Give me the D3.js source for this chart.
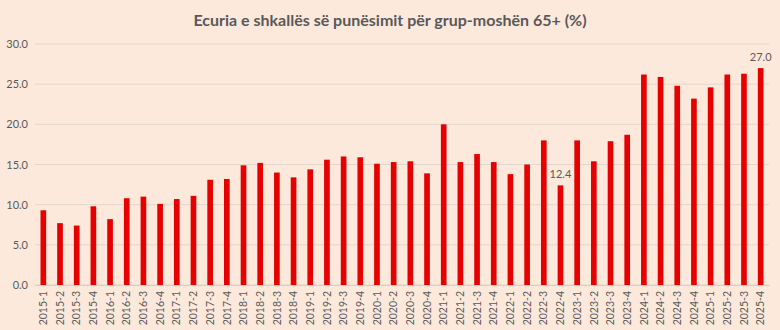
<!DOCTYPE html>
<html><head><meta charset="utf-8">
<script src="https://cdn.jsdelivr.net/npm/d3@7"></script>
<style>
html,body{margin:0;padding:0;background:#fce9dc;}
svg{display:block;}
</style></head>
<body><svg id="c" width="780" height="330"></svg>
<script>
const categories = ["2015-1","2015-2","2015-3","2015-4","2016-1","2016-2","2016-3","2016-4","2017-1","2017-2","2017-3","2017-4","2018-1","2018-2","2018-3","2018-4","2019-1","2019-2","2019-3","2019-4","2020-1","2020-2","2020-3","2020-4","2021-1","2021-2","2021-3","2021-4","2022-1","2022-2","2022-3","2022-4","2023-1","2023-2","2023-3","2023-4","2024-1","2024-2","2024-3","2024-4","2025-1","2025-2","2025-3","2025-4"];
const values = [9.3,7.7,7.4,9.8,8.2,10.8,11.0,10.1,10.7,11.1,13.1,13.2,14.9,15.2,14.0,13.4,14.4,15.6,16.0,15.9,15.1,15.3,15.4,13.9,20.0,15.3,16.3,15.3,13.8,15.0,18.0,12.4,18.0,15.4,17.9,18.7,26.2,25.9,24.8,23.2,24.6,26.2,26.3,27.0];
const yTicks = [0,5,10,15,20,25,30];
const labelled = ["2022-4","2025-4"];
const title = "Ecuria e shkallës së punësimit për grup-moshën 65+ (%)";

const svg = d3.select("#c");
const W = 780, H = 330;
const m = {left:35, right:11, top:44, bottom:45};
svg.append("rect").attr("width",W).attr("height",H).attr("fill","#fce9dc");

const x = d3.scaleBand().domain(categories).range([m.left, W - m.right]).paddingInner(0.66).paddingOuter(0.33);
const y = d3.scaleLinear().domain([0,30]).range([H - m.bottom, m.top]);

const font = "Lato, 'Open Sans', sans-serif";

// gridlines
svg.append("g").selectAll("line").data(yTicks).join("line")
  .attr("x1", m.left).attr("x2", W - m.right)
  .attr("y1", d => y(d)).attr("y2", d => y(d))
  .attr("stroke", "#e2d6cd").attr("stroke-width", 1);

// y axis
const ya = svg.append("g").attr("transform", `translate(${m.left},0)`)
  .call(d3.axisLeft(y).tickValues(yTicks).tickFormat(d3.format(".1f")).tickSize(0).tickPadding(7));
ya.select(".domain").remove();
ya.selectAll("text").attr("fill","#595959").style("font-family",font).style("font-size","11px");

// bars
svg.append("g").selectAll("rect").data(categories).join("rect")
  .attr("x", d => x(d)).attr("width", x.bandwidth())
  .attr("y", (d,i) => y(values[i])).attr("height", (d,i) => y(0) - y(values[i]))
  .attr("fill", "#e60000");

// data labels
svg.append("g").selectAll("text").data(categories.filter(c => labelled.includes(c))).join("text")
  .attr("x", d => x(d) + x.bandwidth()/2)
  .attr("y", d => y(values[categories.indexOf(d)]) - 7)
  .attr("text-anchor","middle")
  .attr("fill","#595959").style("font-family",font).style("font-size","11px")
  .text(d => values[categories.indexOf(d)].toFixed(1));

// x axis
const xa = svg.append("g").attr("transform", `translate(0,${y(0)})`)
  .call(d3.axisBottom(x).tickSize(0).tickPadding(0));
xa.select(".domain").attr("stroke","#d9cdc4");
xa.selectAll("text")
  .attr("transform","rotate(-90)")
  .attr("text-anchor","end")
  .attr("x",-6).attr("y",0).attr("dy","0.35em")
  .attr("fill","#595959").style("font-family",font).style("font-size","10.5px");

// title
svg.append("text").attr("x", 390).attr("y", 26).attr("text-anchor","middle")
  .attr("fill","#595959").style("font-family",font).style("font-weight","bold").style("font-size","16px")
  .text(title);
</script></body></html>
